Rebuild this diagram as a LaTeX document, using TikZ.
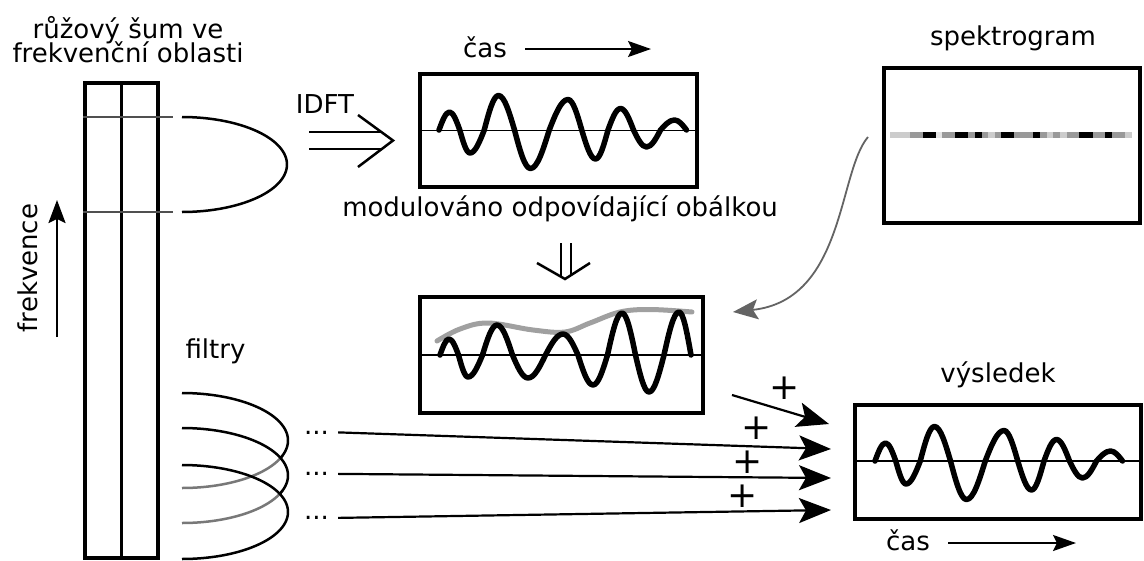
\documentclass[tikz,border=0pt]{standalone}
\usepackage{fontspec}
\setmainfont{DejaVu Sans}
\usetikzlibrary{arrows.meta}
\definecolor{colgray}{RGB}{80,80,80}
\definecolor{filtgray}{RGB}{120,120,120}
\definecolor{envgray}{RGB}{160,160,160}
\definecolor{curvegray}{RGB}{100,100,100}
\definecolor{specL}{RGB}{204,204,204}
\definecolor{specM}{RGB}{153,153,153}
\definecolor{specW}{RGB}{228,228,228}
\tikzset{
  lbl/.style={inner sep=0pt, font=\fontsize{26}{30}\selectfont},
  plussign/.style={inner sep=0pt, font=\fontsize{36}{40}\selectfont},
  frame/.style={draw, line width=4pt, rectangle, inner sep=0pt},
  colframe/.style={draw, line width=3.5pt, rectangle, inner sep=0pt},
  axisline/.style={line width=1.5pt},
  waveline/.style={line width=5.5pt, line join=round, line cap=round},
  envline/.style={line width=5pt, envgray, line cap=round},
  thincurve/.style={line width=2.5pt},
  bandline/.style={line width=2pt, colgray},
  dblarrow/.style={line width=2.5pt, line join=miter},
  bigarrow/.style={line width=2.2pt, -{Stealth[length=32pt,width=25pt,inset=7pt]}},
  smallarrow/.style={line width=2.2pt, -{Stealth[length=23pt,width=16pt,inset=4pt]}},
  freqarrow/.style={line width=2.2pt, -{Stealth[length=23pt,width=17pt,inset=4pt]}},
  grayarrow/.style={line width=1.8pt, curvegray, -{Stealth[length=25pt,width=20pt,inset=5pt]}},
  wavetop/.pic={\draw[waveline] (0,0) sin (10.5,-18) cos (20.75,0) sin (31,23) cos (45.25,0)
     sin (59.5,-34.5) cos (75.5,0) sin (91.5,38.5) cos (110.25,0) sin (129,-30.5) cos (142.75,0)
     sin (156.5,29) cos (169,0) sin (181.5,-21.5) cos (194.5,0) sin (207.5,17) cos (221.5,0)
     sin (235.5,-10) cos (247.5,0);},
  wavemid/.pic={\draw[waveline] (0,0) sin (9,-16) cos (18.5,0) sin (28,22) cos (42.5,0)
     sin (57,-30) cos (72.5,0) sin (88,23) cos (105.5,0) sin (123,-21) cos (138,0)
     sin (153,30) cos (167.5,0) sin (182,-42) cos (195.5,0) sin (209,37) cos (224,0)
     sin (239,-43) cos (251,0);}
}
\begin{document}
\begin{tikzpicture}[x=1pt,y=-1pt]
\useasboundingbox (0,0) rectangle (1144,560);
\fill[white] (0,0) rectangle (1144,560);

% titles
\node[lbl, anchor=base] (title1) at (128,38) {růžový šum ve};
\node[lbl, anchor=base] (title2) at (128,62) {frekvenční oblasti};

% column
\node[colframe, minimum width=73pt, minimum height=475pt] (col) at (121.5,320.5) {};
\draw[line width=2.5pt] (col.north) -- (col.south);
\draw[bandline] (col.west |- 0,117) -- (173,117);
\draw[bandline] (col.west |- 0,212) -- (173,212);

% frekvence
\node[lbl, anchor=base, rotate=90] (freq) at (37,268) {frekvence};
\coordinate (fa0) at (57,337);
\coordinate (fa1) at (57,200);
\draw[freqarrow] (fa0) -- (fa1);

% band half ellipse
\draw[thincurve] plot[domain=-90:90, samples=60, variable=\t] ({182+105*cos(\t)},{164.5+47.5*sin(\t)});

% IDFT
\node[lbl, anchor=base] (idft) at (325,113) {IDFT};
\draw[dblarrow] (309,132) -- (382,132);
\draw[dblarrow] (309,149) -- (382,149);
\draw[dblarrow] (358,115) -- (393,140.5) -- (358,167);

% top box
\node[lbl, anchor=base] (cas1) at (485,57) {čas};
\coordinate (ca1) at (651,49);
\draw[smallarrow] ([xshift=18pt,yshift=8pt]cas1.base east) -- (ca1);
\node[frame, minimum width=277pt, minimum height=113pt] (topbox) at (558.5,130.5) {};
\draw[axisline] (topbox.west) -- (topbox.east);
\pic at (439,130) {wavetop};

% modulation label
\node[lbl, anchor=base] (modl) at (560,216.5) {modulováno odpovídající obálkou};
\draw[dblarrow] (561,243) -- (561,276);
\draw[dblarrow] (571,243) -- (571,275);
\draw[dblarrow] (537,263) -- (565,279) -- (590,263);

% middle box
\node[frame, minimum width=283pt, minimum height=116pt] (midbox) at (561.5,355) {};
\draw[axisline] (midbox.west) -- (midbox.east);
\draw[envline] plot[smooth, tension=0.6] coordinates {(437,341) (460,329) (488,323) (533,330) (565,332) (590,323) (620,312) (650,309.5) (692,312)};
\pic at (440,355) {wavemid};

% spectrogram
\node[lbl, anchor=base] (spekl) at (1013,45) {spektrogram};
\node[frame, minimum width=256pt, minimum height=155pt] (specbox) at (1012,145.5) {};
\foreach \a/\b/\c in {890/910/specL, 910/922.7/specM, 922.7/936/black, 936/942/specW,
  942/955.3/specM, 955.3/968.3/black, 968.3/975/specM, 975/981.7/black, 981.7/988.3/specM,
  988.3/995/specL, 995/1001/specM, 1001/1014.3/black, 1014.3/1033.3/specM, 1033.3/1040/black,
  1040/1046.7/specM, 1046.7/1053.3/specL, 1053.3/1060/specM, 1060/1066.7/specL,
  1066.7/1079.3/specM, 1079.3/1092.7/black, 1092.7/1105.3/specM, 1105.3/1112/black,
  1112/1125.3/specM, 1125.3/1131.7/specL}
  \fill[\c] (\a,132) rectangle (\b,138);
\coordinate (g0) at (868,137);
\coordinate (g1) at (733,312);
\draw[grayarrow] (g0) .. controls (838,172) and (845,300) .. (g1);

% filters
\node[lbl, anchor=base] (filt) at (215.5,358) {filtry};
\draw[thincurve, filtgray] plot[domain=18:90, samples=40, variable=\t] ({182+106*cos(\t)},{440.5+47.5*sin(\t)});
\draw[thincurve, filtgray] plot[domain=18:90, samples=40, variable=\t] ({182+106*cos(\t)},{475.5+47.5*sin(\t)});
\draw[thincurve] plot[domain=-90:22, samples=60, variable=\t] ({182+106*cos(\t)},{440.5+47.5*sin(\t)});
\draw[thincurve] plot[domain=-90:22, samples=60, variable=\t] ({182+106*cos(\t)},{475.5+47.5*sin(\t)});
\draw[thincurve] plot[domain=-90:90, samples=80, variable=\t] ({182+106*cos(\t)},{512+47*sin(\t)});

% dots and arrows
\node[lbl, anchor=base west] (d1) at (304,434) {...};
\node[lbl, anchor=base west] (d2) at (304,475.5) {...};
\node[lbl, anchor=base west] (d3) at (304,519.5) {...};
\coordinate (t0) at (829,424);
\coordinate (t1) at (831,449);
\coordinate (t2) at (831,478);
\coordinate (t3) at (831,510);
\coordinate (a0) at (732,395);
\draw[bigarrow] (a0) -- (t0);
\draw[bigarrow] ([xshift=9pt]d1.east) -- (t1);
\draw[bigarrow] ([xshift=9pt]d2.east) -- (t2);
\draw[bigarrow] ([xshift=9pt]d3.east) -- (t3);
\node[plussign] (p1) at (785,388) {+};
\node[plussign] (p2) at (757,428) {+};
\node[plussign] (p3) at (748,462) {+};
\node[plussign] (p4) at (743,496) {+};

% result
\node[lbl, anchor=base] (resl) at (998,382) {výsledek};
\node[frame, minimum width=286pt, minimum height=114pt] (resbox) at (998,462) {};
\draw[axisline] (resbox.west |- 0,461) -- (resbox.east |- 0,461);
\pic at (875,461) {wavetop};
\node[lbl, anchor=base] (cas2) at (908,550) {čas};
\coordinate (ca2) at (1076,543);
\draw[smallarrow] ([xshift=18pt,yshift=7pt]cas2.base east) -- (ca2);
\end{tikzpicture}
\end{document}
